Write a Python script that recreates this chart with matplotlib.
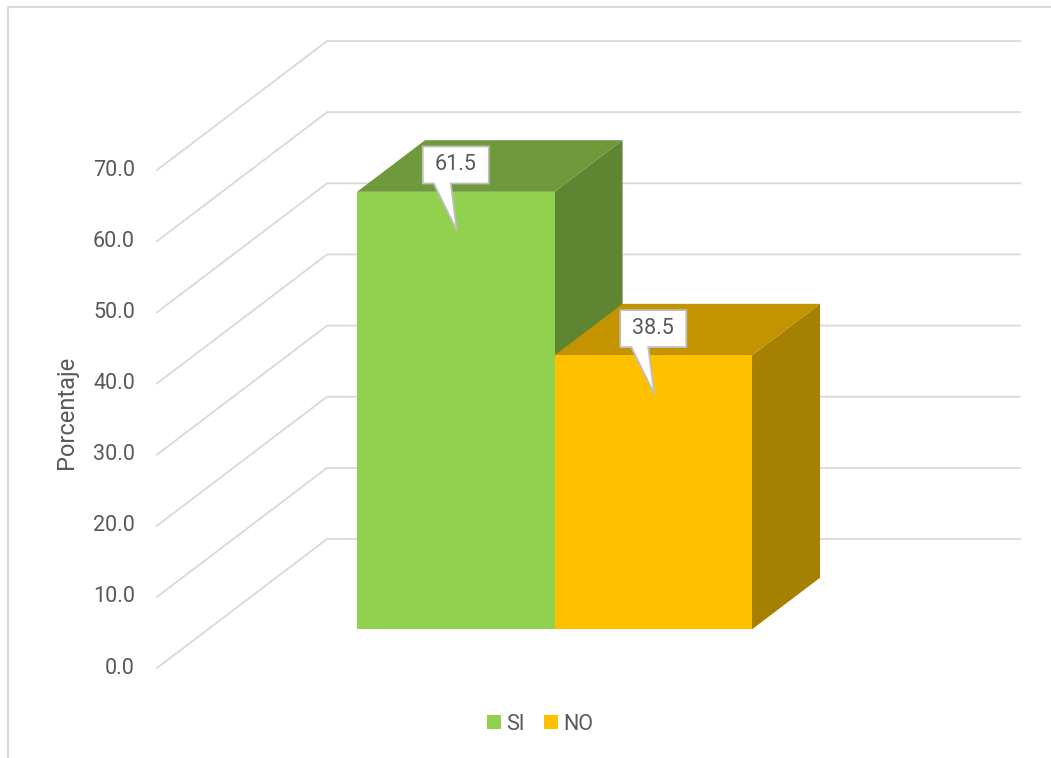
import matplotlib.pyplot as plt
from matplotlib.patches import Polygon, Patch

plt.rcParams['font.family'] = ['Roboto', 'DejaVu Sans']

# datos
categorias  = ['SI', 'NO']
porcentajes = [61.5, 38.5]
ticks       = [0, 10, 20, 30, 40, 50, 60, 70]

col_frente = ['#92D050', '#FFC000']
col_techo  = ['#6E9A3B', '#C49300']
col_lado   = ['#5E8532', '#A68000']
gris_txt   = '#595959'
gris_grid  = '#D9D9D9'

# "3d" falso: x en unidades de barra, y en porcentaje, d = profundidad 0..1
DX, DV = 0.861, 18.13
W      = 3.509
d0, d1 = 0.3, 0.7
px_x, px_y = 197.5, 7.114   # pixeles por unidad


def proj(x, v, d):
    return (x + d*DX, v + d*DV)


def caja(ax, xc, v, texto):
    # globo del rotulo con punta hacia la barra
    hw, hh = 33/px_x, 18.5/px_y
    yb = v + 47/px_y
    pts = [(xc - hw, yb + 2*hh), (xc + hw, yb + 2*hh), (xc + hw, yb),
           (xc - 5/px_x, yb), (xc + 1/px_x, v), (xc - 22/px_x, yb), (xc - hw, yb)]
    ax.add_patch(Polygon(pts, closed=True, fc='white', ec='#BFBFBF', lw=1.3, zorder=5))
    ax.text(xc, yb + hh, texto, ha='center', va='center', fontsize=15.5,
            color=gris_txt, zorder=6)


fig = plt.figure(figsize=(10.51, 7.58), dpi=100)
ax  = fig.add_axes([0, 0, 1, 1])
ax.set_xlim(-157/px_x, (1051 - 157)/px_x)
ax.set_ylim(-(758 - 668)/px_y, 668/px_y)
ax.axis('off')

# marco del grafico (solo arriba e izquierda visibles)
fig.add_artist(plt.Line2D([8/1051, 8/1051, 1], [0, 1 - 7/758, 1 - 7/758],
                          transform=fig.transFigure, color=gris_grid, lw=1.5))

# lineas de division: pared izquierda y pared del fondo
for v in ticks:
    a = proj(0, v, 0)
    b = proj(0, v, 1)
    c = proj(W, v, 1)
    ax.plot([a[0], b[0], c[0]], [a[1], b[1], c[1]], color=gris_grid, lw=1.3, zorder=1)
    ax.text(-22/px_x, v, f'{v:.1f}', ha='right', va='center', fontsize=15.5, color=gris_txt)

# barras (pegadas, centradas en el piso)
inicio = (W - len(categorias))/2
for i, v in enumerate(porcentajes):
    x0 = inicio + i
    x1 = x0 + 1
    frente = [proj(x0, 0, d0), proj(x1, 0, d0), proj(x1, v, d0), proj(x0, v, d0)]
    techo  = [proj(x0, v, d0), proj(x1, v, d0), proj(x1, v, d1), proj(x0, v, d1)]
    lado   = [proj(x1, 0, d0), proj(x1, 0, d1), proj(x1, v, d1), proj(x1, v, d0)]
    ax.add_patch(Polygon(lado, closed=True, fc=col_lado[i], ec='none', zorder=2))
    ax.add_patch(Polygon(techo, closed=True, fc=col_techo[i], ec='none', zorder=2))
    ax.add_patch(Polygon(frente, closed=True, fc=col_frente[i], ec='none', zorder=2))
    xc = proj((x0 + x1)/2, v, d0)[0]
    caja(ax, xc, v, f'{v:.1f}')

ax.text(-90/px_x, 36.0, 'Porcentaje', rotation=90, ha='center', va='center',
        fontsize=17, color=gris_txt)

handles = [Patch(fc=c, ec='none') for c in col_frente]
fig.legend(handles, categorias, loc='center', bbox_to_anchor=(540/1051, 1 - 724/758),
           ncol=2, frameon=False, fontsize=15.5, labelcolor=gris_txt,
           handlelength=0.65, handleheight=0.65, handletextpad=0.25, columnspacing=0.9)

plt.savefig('out.png', dpi=100)
